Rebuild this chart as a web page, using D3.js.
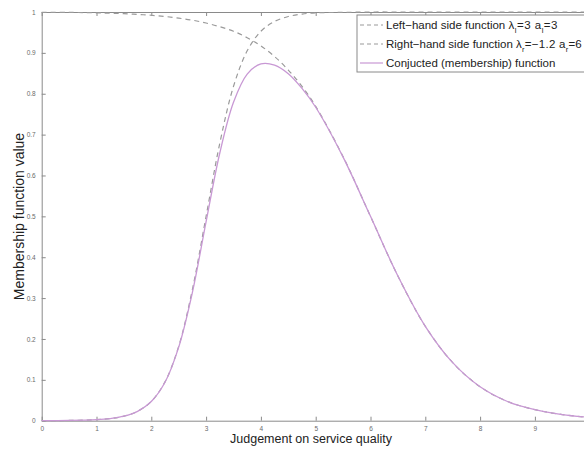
<!DOCTYPE html>
<html>
<head>
<meta charset="utf-8">
<script src="https://cdn.jsdelivr.net/npm/d3@7"></script>
<style>
body { margin: 0; background: #fff; }
text { font-family: "Liberation Sans", Arial, sans-serif; }
</style>
</head>
<body>
<script>
var w = 584
var h = 449

// judgement values where the curves were read
var xs = [0, 0.5, 1, 1.25, 1.5, 1.75, 2, 2.25, 2.5, 2.75, 3, 3.25, 3.5, 3.75, 4, 4.25, 4.5, 4.75, 5, 5.5, 6, 6.5, 7, 7.5, 8, 8.5, 9, 9.5, 10]
// left-hand side function (lambda_l = 3, a_l = 3)
var leftVals = [0.0001, 0.0006, 0.0025, 0.0052, 0.011, 0.023, 0.047, 0.095, 0.182, 0.321, 0.5, 0.679, 0.818, 0.905, 0.953, 0.977, 0.989, 0.995, 0.998, 0.999, 1, 1, 1, 1, 1, 1, 1, 1, 1]
// right-hand side function (lambda_r = -1.2, a_r = 6)
var rightVals = [0.999, 0.999, 0.998, 0.997, 0.996, 0.994, 0.992, 0.989, 0.985, 0.980, 0.973, 0.964, 0.953, 0.937, 0.917, 0.891, 0.858, 0.818, 0.769, 0.646, 0.5, 0.354, 0.231, 0.142, 0.083, 0.047, 0.027, 0.015, 0.008]
// conjuncted (membership) function
var conjVals = [0.0001, 0.0006, 0.0025, 0.0052, 0.011, 0.023, 0.047, 0.094, 0.180, 0.314, 0.487, 0.655, 0.779, 0.848, 0.873, 0.870, 0.849, 0.813, 0.767, 0.645, 0.5, 0.354, 0.231, 0.142, 0.083, 0.047, 0.027, 0.015, 0.008]

var xTicks = [0, 1, 2, 3, 4, 5, 6, 7, 8, 9, 10]
var xLabelTicks = [0, 1, 2, 3, 4, 5, 6, 7, 8, 9]
var yTicks = [0, 0.1, 0.2, 0.3, 0.4, 0.5, 0.6, 0.7, 0.8, 0.9, 1]

var mLeft = 41.7, mRight = 589.7, mTop = 12, mBottom = 420.7

var x = d3.scaleLinear().domain([0, 10]).range([mLeft, mRight])
var y = d3.scaleLinear().domain([0, 1]).range([mBottom, mTop])

var svg = d3.select("body")
    .append("svg")
    .attr("width", w)
    .attr("height", h)

var axisColor = "#8a8a8a"
var tickText = "#6a6a6a"

// axes, MATLAB style: ticks pointing inward, on all four sides
svg.append("g")
    .attr("transform", "translate(0," + mBottom + ")")
    .call(d3.axisBottom(x).tickValues(xLabelTicks).tickFormat(d3.format("d")).tickSizeInner(-4).tickSizeOuter(0).tickPadding(6))
svg.append("g")
    .attr("transform", "translate(0," + mTop + ")")
    .call(d3.axisTop(x).tickValues(xTicks).tickFormat("").tickSizeInner(-4).tickSizeOuter(0))
svg.append("g")
    .attr("transform", "translate(" + mLeft + ",0)")
    .call(d3.axisLeft(y).tickValues(yTicks).tickFormat(function (d) { return d == 0 || d == 1 ? d3.format("d")(d) : d3.format(".1f")(d) }).tickSizeInner(-4).tickSizeOuter(0).tickPadding(6))
svg.append("g")
    .attr("transform", "translate(" + mRight + ",0)")
    .call(d3.axisRight(y).tickValues(yTicks).tickFormat("").tickSizeInner(-4).tickSizeOuter(0))

svg.selectAll(".domain").attr("stroke", axisColor)
svg.selectAll(".tick line").attr("stroke", axisColor)
svg.selectAll(".tick text").attr("fill", tickText).style("font-size", "6.5px")

var pts = function (vals) {
    return xs.map(function (d, i) { return [d, vals[i]] })
}
var line = d3.line()
    .x(function (d) { return x(d[0]) })
    .y(function (d) { return y(d[1]) })
    .curve(d3.curveCatmullRom.alpha(0.5))

svg.append("path")
    .attr("d", line(pts(leftVals)))
    .attr("fill", "none")
    .attr("stroke", "#9a9a9a")
    .attr("stroke-width", 1.2)
    .attr("stroke-dasharray", "5,4")
svg.append("path")
    .attr("d", line(pts(rightVals)))
    .attr("fill", "none")
    .attr("stroke", "#9a9a9a")
    .attr("stroke-width", 1.2)
    .attr("stroke-dasharray", "5,4")
svg.append("path")
    .attr("d", line(pts(conjVals)))
    .attr("fill", "none")
    .attr("stroke", "#c898d4")
    .attr("stroke-width", 1.3)

// axis labels
svg.append("text")
    .attr("x", 311)
    .attr("y", 443)
    .attr("text-anchor", "middle")
    .style("font-size", "12.5px")
    .attr("fill", "#222")
    .text("Judgement on service quality")
svg.append("text")
    .attr("transform", "translate(24,216.5) rotate(-90)")
    .attr("text-anchor", "middle")
    .style("font-size", "14px")
    .attr("fill", "#222")
    .text("Membership function value")

// legend
var lg = svg.append("g")
lg.append("rect")
    .attr("x", 357).attr("y", 15)
    .attr("width", 240).attr("height", 57)
    .attr("fill", "#fff")
    .attr("stroke", axisColor)

// parts: [text, isSubscript, isMath]; end = where the row's text ends in the reference
var legendRows = [
    { dash: "4,3", color: "#9a9a9a", end: 558, parts: [["Left\u2212hand side function ", 0, 0], ["\u03bb", 0, 1], ["l", 1, 1], ["=3 a", 0, 1], ["l", 1, 1], ["=3", 0, 1]] },
    { dash: "4,3", color: "#9a9a9a", end: 582, parts: [["Right\u2212hand side function ", 0, 0], ["\u03bb", 0, 1], ["r", 1, 1], ["=\u22121.2 a", 0, 1], ["r", 1, 1], ["=6", 0, 1]] },
    { dash: null, color: "#c898d4", end: null, parts: [["Conjucted (membership) function", 0, 0]] }
]
legendRows.forEach(function (r, i) {
    var ly = 25 + i * 19
    lg.append("line")
        .attr("x1", 360).attr("x2", 383)
        .attr("y1", ly).attr("y2", ly)
        .attr("stroke", r.color)
        .attr("stroke-width", 1.2)
        .attr("stroke-dasharray", r.dash)
    var t = lg.append("text")
        .attr("x", 386)
        .attr("y", ly + 4)
        .style("font-size", "11.5px")
        .attr("fill", "#222")
    var prevSub = false
    var nMath = 0
    r.parts.forEach(function (p) {
        var s = t.append("tspan").text(p[0])
        if (p[2]) { s.classed("math", true); nMath += p[0].length }
        if (p[1]) { s.style("font-size", "7.5px").attr("dy", 3.5); prevSub = true }
        else if (prevSub) { s.attr("dy", -3.5); prevSub = false }
    })
    // widen the math part a little, as in the reference's symbol font
    if (r.end && nMath) {
        var extra = r.end - (386 + t.node().getComputedTextLength())
        if (extra > 0) t.selectAll("tspan.math").style("letter-spacing", (extra / nMath) + "px")
    }
})
</script>
</body>
</html>
